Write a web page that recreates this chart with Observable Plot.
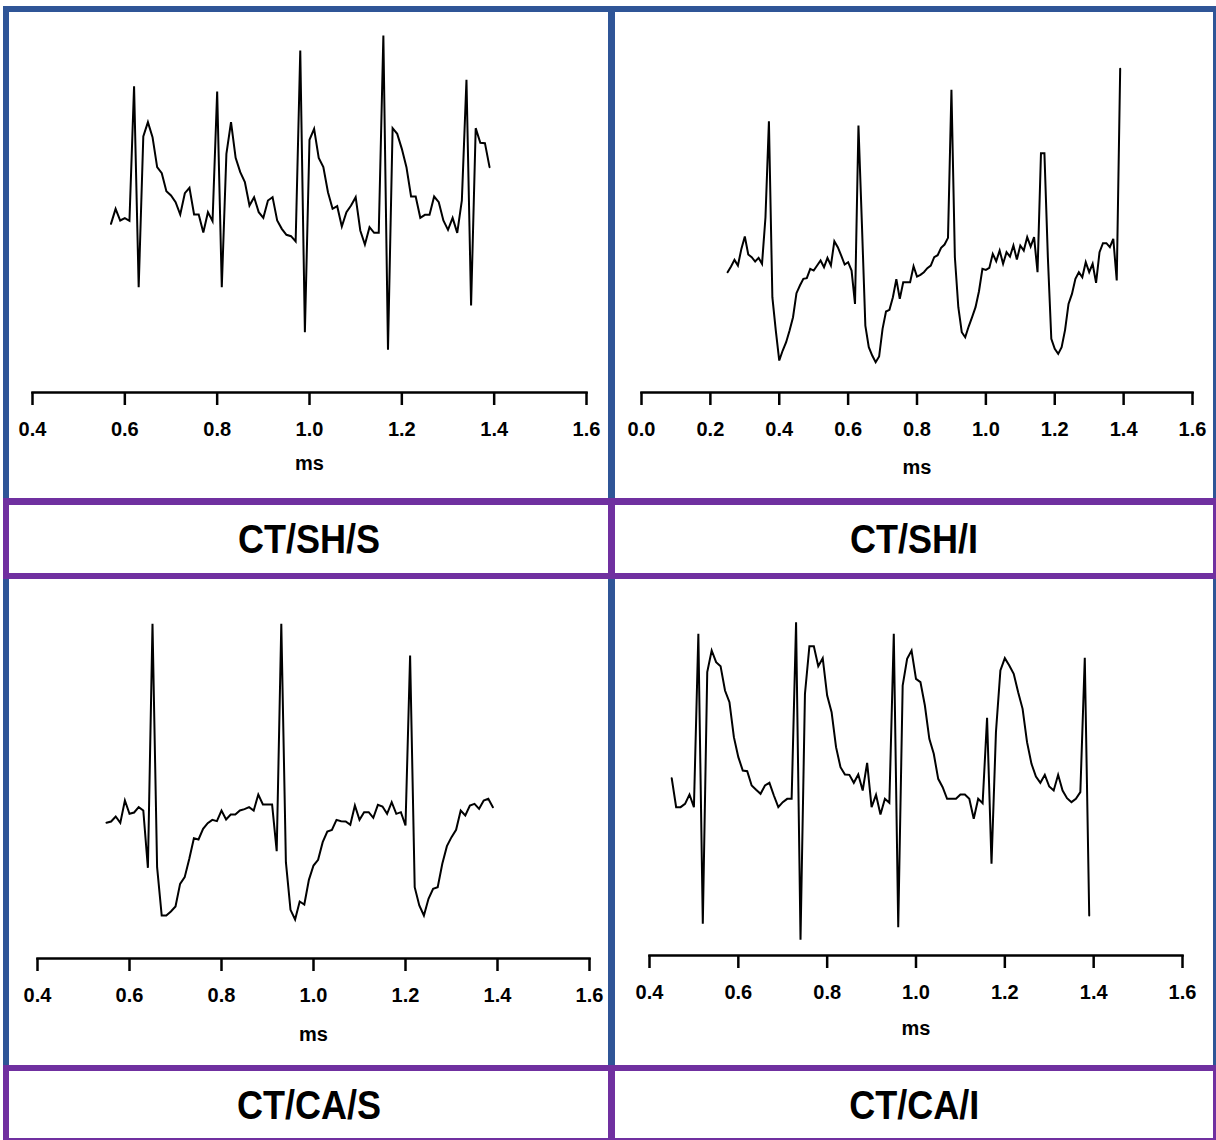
<!DOCTYPE html>
<html><head><meta charset="utf-8">
<script src="https://cdn.jsdelivr.net/npm/d3@7"></script>
<script src="https://cdn.jsdelivr.net/npm/@observablehq/plot@0.6"></script>
<style>
body{margin:0;background:#fff;}
#root{position:relative;width:1216px;height:1140px;overflow:hidden;background:#fff;font-family:"Liberation Sans",Arial,sans-serif;}
.box{position:absolute;box-sizing:border-box;}
.panel{border-style:solid;border-color:#2F5597;}
.lab{border-style:solid;border-color:#7030A0;display:flex;align-items:center;justify-content:center;background:#fff;}
.lab span{font-weight:bold;font-size:40px;transform:scaleX(0.9);display:inline-block;color:#000;line-height:1;}
.plot{position:absolute;}
</style></head><body><div id="root"></div>
<script>
// Panel titles
const titles = ["CT/SH/S", "CT/SH/I", "CT/CA/S", "CT/CA/I"];
const axisLabel = "ms";
// Tick values
const ticksFrom04 = [0.4, 0.6, 0.8, 1.0, 1.2, 1.4, 1.6];
const ticksFrom00 = [0.0, 0.2, 0.4, 0.6, 0.8, 1.0, 1.2, 1.4, 1.6];

// CT/SH/S
const shS_t = [0.57,0.58,0.59,0.60,0.61,0.62,0.63,0.64,0.65,0.66,0.67,0.68,0.69,0.70,0.71,0.72,0.73,0.74,0.75,0.76,0.77,0.78,0.79,0.80,0.81,0.82,0.83,0.84,0.85,0.86,0.87,0.88,0.89,0.90,0.91,0.92,0.93,0.94,0.95,0.96,0.97,0.98,0.99,1.00,1.01,1.02,1.03,1.04,1.05,1.06,1.07,1.08,1.09,1.10,1.11,1.12,1.13,1.14,1.15,1.16,1.17,1.18,1.19,1.20,1.21,1.22,1.23,1.24,1.25,1.26,1.27,1.28,1.29,1.30,1.31,1.32,1.33,1.34,1.35,1.36,1.37,1.38,1.39];
const shS_v = [-10,35,0,7,-1,403,-200,252,295,250,
160,142,88,75,55,18,82,98,18,18,
-36,25,-2,387,-200,200,295,188,145,115,
45,70,25,8,60,70,0,-25,-43,-47,
-63,510,-335,242,275,188,160,85,35,43,
-18,25,45,70,-30,-72,-20,-37,-37,555,
-388,277,260,215,160,72,72,8,17,17,
72,55,0,-28,8,-37,60,422,-255,277,
233,232,160];

// CT/SH/I
const shI_t = [0.25,0.26,0.27,0.28,0.29,0.30,0.31,0.32,0.33,0.34,0.35,0.36,0.37,0.38,0.39,0.40,0.41,0.42,0.43,0.44,0.45,0.46,0.47,0.48,0.49,0.50,0.51,0.52,0.53,0.54,0.55,0.56,0.57,0.58,0.59,0.60,0.61,0.62,0.63,0.64,0.65,0.66,0.67,0.68,0.69,0.70,0.71,0.72,0.73,0.74,0.75,0.76,0.77,0.78,0.79,0.80,0.81,0.82,0.83,0.84,0.85,0.86,0.87,0.88,0.89,0.90,0.91,0.92,0.93,0.94,0.95,0.96,0.97,0.98,0.99,1.00,1.01,1.02,1.03,1.04,1.05,1.06,1.07,1.08,1.09,1.10,1.11,1.12,1.13,1.14,1.15,1.16,1.17,1.18,1.19,1.20,1.21,1.22,1.23,1.24,1.25,1.26,1.27,1.28,1.29,1.30,1.31,1.32,1.33,1.34,1.35,1.36,1.37,1.38,1.39];
const shI_v = [-15,2,22,5,55,92,38,30,17,28,
10,150,438,-90,-190,-280,-250,-225,-190,-150,
-78,-55,-35,-33,-5,-10,5,20,0,28,
5,78,60,35,8,15,-10,-110,425,130,
-175,-240,-265,-285,-268,-185,-133,-128,-90,-36,
-95,-45,-45,-45,3,-28,-23,-15,-3,5,
30,36,58,68,88,532,30,-120,-195,-210,
-178,-150,-120,-72,-5,-8,-2,40,18,50,
10,45,32,65,23,65,50,90,62,90,
-15,342,342,30,-215,-245,-260,-240,-188,-110,
-80,-35,-15,-30,15,-15,10,-47,45,72,
72,60,85,-40,595];

// CT/CA/S
const caS_t = [0.55,0.56,0.57,0.58,0.59,0.60,0.61,0.62,0.63,0.64,0.65,0.66,0.67,0.68,0.69,0.70,0.71,0.72,0.73,0.74,0.75,0.76,0.77,0.78,0.79,0.80,0.81,0.82,0.83,0.84,0.85,0.86,0.87,0.88,0.89,0.90,0.91,0.92,0.93,0.94,0.95,0.96,0.97,0.98,0.99,1.00,1.01,1.02,1.03,1.04,1.05,1.06,1.07,1.08,1.09,1.10,1.11,1.12,1.13,1.14,1.15,1.16,1.17,1.18,1.19,1.20,1.21,1.22,1.23,1.24,1.25,1.26,1.27,1.28,1.29,1.30,1.31,1.32,1.33,1.34,1.35,1.36,1.37,1.38,1.39];
const caS_v = [-37,-33,-18,-37,30,-10,-6,10,0,-172,
560,-170,-315,-315,-303,-288,-220,-200,-145,-83,
-87,-55,-38,-28,-32,0,-27,-12,-12,0,
4,10,0,48,18,18,18,-122,560,-155,
-298,-327,-273,-282,-208,-165,-148,-95,-63,-58,
-28,-32,-33,-43,15,-28,-5,-5,-22,17,
12,-10,25,-10,-5,-45,465,-230,-285,-315,
-265,-235,-230,-160,-107,-80,-58,0,-15,15,
20,5,30,35,10];

// CT/CA/I
const caI_t = [0.45,0.46,0.47,0.48,0.49,0.50,0.51,0.52,0.53,0.54,0.55,0.56,0.57,0.58,0.59,0.60,0.61,0.62,0.63,0.64,0.65,0.66,0.67,0.68,0.69,0.70,0.71,0.72,0.73,0.74,0.75,0.76,0.77,0.78,0.79,0.80,0.81,0.82,0.83,0.84,0.85,0.86,0.87,0.88,0.89,0.90,0.91,0.92,0.93,0.94,0.95,0.96,0.97,0.98,0.99,1.00,1.01,1.02,1.03,1.04,1.05,1.06,1.07,1.08,1.09,1.10,1.11,1.12,1.13,1.14,1.15,1.16,1.17,1.18,1.19,1.20,1.21,1.22,1.23,1.24,1.25,1.26,1.27,1.28,1.29,1.30,1.31,1.32,1.33,1.34,1.35,1.36,1.37,1.38,1.39];
const caI_v = [97,10,10,20,48,10,530,-340,415,480,
445,433,360,325,220,160,120,118,75,62,
50,75,83,45,10,25,35,35,565,-388,
350,493,493,433,457,345,295,190,130,108,
107,83,108,60,143,10,47,-12,35,23,
530,-350,375,455,480,395,385,315,215,170,
95,70,35,35,35,48,48,35,-25,35,
22,278,-160,235,420,457,435,410,355,305,
205,140,102,83,107,72,60,107,60,37,
25,35,55,458,-315];

const root = document.getElementById("root");
function box(cls, l, t, w, h, bw) {
  const d = document.createElement("div");
  d.className = "box " + cls;
  Object.assign(d.style, {left: l + "px", top: t + "px", width: w + "px", height: h + "px",
    borderWidth: bw.map(v => v + "px").join(" ")});
  root.appendChild(d);
  return d;
}
// blue panels
box("panel", 3, 6, 612, 499, [6, 7, 0, 6]);
box("panel", 608, 6, 608, 499, [6, 3, 0, 7]);
box("panel", 3, 573, 612, 498, [0, 7, 0, 6]);
box("panel", 608, 573, 608, 498, [0, 3, 0, 7]);

const panels = [
  {t: shS_t, v: shS_v, dom: [0.4, 1.6], ticks: ticksFrom04, left: 9, top: 12, w: 599, h: 486, ml: 23, mr: 22, mb: 106, yr: [208, 8], msdy: 77},
  {t: shI_t, v: shI_v, dom: [0.0, 1.6], ticks: ticksFrom00, left: 615, top: 12, w: 598, h: 486, ml: 26, mr: 21, mb: 106, yr: [254.7, 54.7], msdy: 81},
  {t: caS_t, v: caS_v, dom: [0.4, 1.6], ticks: ticksFrom04, left: 9, top: 579, w: 599, h: 486, ml: 28, mr: 19, mb: 107, yr: [231, 31], msdy: 82},
  {t: caI_t, v: caI_v, dom: [0.4, 1.6], ticks: ticksFrom04, left: 615, top: 579, w: 598, h: 486, ml: 34, mr: 31, mb: 110, yr: [231, 31], msdy: 79}
];

panels.forEach(p => {
  const data = p.t.map((t, i) => ({t, v: p.v[i]}));
  const svg = Plot.plot({
    width: p.w, height: p.h,
    marginLeft: p.ml, marginRight: p.mr, marginTop: 0, marginBottom: p.mb,
    x: {domain: p.dom, range: [p.ml, p.w - p.mr]},
    y: {domain: [0, 600], range: p.yr, axis: null},
    style: {fontFamily: "'Liberation Sans', Arial, sans-serif", fontWeight: "bold", fontSize: "20px", color: "#000", background: "transparent", overflow: "visible"},
    marks: [
      Plot.frame({anchor: "bottom", stroke: "#000", strokeWidth: 2.5}),
      Plot.axisX({ticks: p.ticks, tickSize: 13, tickPadding: 16, tickFormat: d3.format(".1f"), stroke: "#000", strokeWidth: 2.5, fontSize: 20, fontWeight: "bold", label: null}),
      Plot.line(data, {x: "t", y: "v", stroke: "#000", strokeWidth: 2, strokeLinejoin: "miter", strokeMiterlimit: 4}),
      Plot.text([axisLabel], {text: d => d, frameAnchor: "bottom", dy: p.msdy, fontSize: 20, fontWeight: "bold", fill: "#000"})
    ]
  });
  svg.classList.add("plot");
  svg.style.left = p.left + "px";
  svg.style.top = p.top + "px";
  root.appendChild(svg);
});

// purple label boxes
const labs = [
  [3, 498, 612, 81, [7, 7, 6, 6]],
  [608, 498, 608, 81, [7, 3, 6, 7]],
  [3, 1065, 612, 75, [6, 7, 2, 6]],
  [608, 1065, 608, 75, [6, 3, 2, 7]]
];
labs.forEach((b, i) => {
  const d = box("lab", b[0], b[1], b[2], b[3], b[4]);
  const s = document.createElement("span");
  s.textContent = titles[i];
  d.appendChild(s);
});
</script></body></html>
